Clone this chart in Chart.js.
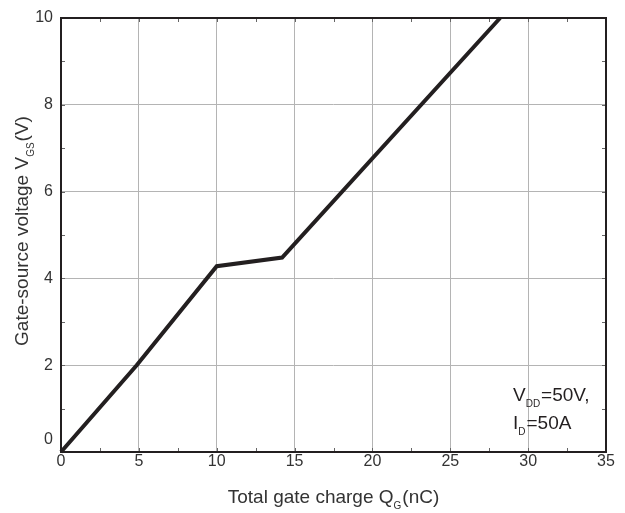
<!DOCTYPE html>
<html>
<head>
<meta charset="utf-8">
<script src="https://cdn.jsdelivr.net/npm/chart.js@4/dist/chart.umd.min.js"></script>
<style>
  html, body { margin: 0; padding: 0; background: #fff; }
  #wrap { width: 625px; height: 513px; }
</style>
</head>
<body>
<div id="wrap"><canvas id="qg"></canvas></div>
<script>
// gate charge curve, Qg (nC) vs Vgs (V)
const chargeNC = [0, 4.86, 10, 14.2, 28.2];
const vgsVolts = [0, 2, 4.28, 4.48, 10];
const xTicks = [0, 5, 10, 15, 20, 25, 30, 35];
const yTicks = [0, 2, 4, 6, 8, 10];

const FONT = "'Liberation Sans', Arial, sans-serif";
const INK = "#231f20";

// frame, minor ticks, titles and the test-condition note
const extras = {
  id: "extras",
  afterDraw(chart) {
    const ctx = chart.ctx;
    const a = chart.chartArea;
    const xs = chart.scales.x, ys = chart.scales.y;
    ctx.save();

    // small inward ticks on all four sides
    ctx.strokeStyle = "#666";
    ctx.lineWidth = 1;
    ctx.beginPath();
    for (let v = 0; v <= 35; v += 2.5) {
      const px = Math.round(xs.getPixelForValue(v)) + 0.5;
      ctx.moveTo(px, a.bottom); ctx.lineTo(px, a.bottom - 4);
      ctx.moveTo(px, a.top); ctx.lineTo(px, a.top + 4);
    }
    for (let v = 0; v <= 10; v += 1) {
      const py = Math.round(ys.getPixelForValue(v)) + 0.5;
      ctx.moveTo(a.left, py); ctx.lineTo(a.left + 4, py);
      ctx.moveTo(a.right, py); ctx.lineTo(a.right - 4, py);
    }
    ctx.stroke();

    ctx.strokeStyle = INK;
    ctx.lineWidth = 2;
    ctx.strokeRect(a.left, a.top, a.right - a.left, a.bottom - a.top);

    // y = 0 label sits a little above the axis
    ctx.fillStyle = "#333";
    ctx.font = "16px " + FONT;
    ctx.textAlign = "right";
    ctx.textBaseline = "middle";
    ctx.fillText("0", a.left - 8, a.bottom - 12);

    // text with subscripts
    function sub(parts, x, y, size) {
      ctx.textAlign = "left";
      ctx.textBaseline = "alphabetic";
      let cx = x;
      for (const [t, isSub] of parts) {
        ctx.font = (isSub ? Math.round(size * 0.55) : size) + "px " + FONT;
        ctx.fillText(t, cx, isSub ? y + size * 0.3 : y);
        cx += ctx.measureText(t).width + (isSub ? 1 : 0);
      }
      return cx - x;
    }
    function width(parts, size) {
      let w = 0;
      for (const [t, isSub] of parts) {
        ctx.font = (isSub ? Math.round(size * 0.55) : size) + "px " + FONT;
        w += ctx.measureText(t).width + (isSub ? 1 : 0);
      }
      return w;
    }

    ctx.fillStyle = "#333";
    const xt = [["Total gate charge Q", false], ["G", true], ["(nC)", false]];
    sub(xt, (a.left + a.right) / 2 - width(xt, 19) / 2, 503, 19);

    const yt = [["Gate-source voltage V", false], ["GS", true], ["(V)", false]];
    ctx.save();
    ctx.translate(28, 231);
    ctx.rotate(-Math.PI / 2);
    sub(yt, -width(yt, 19) / 2, 0, 19);
    ctx.restore();

    ctx.fillStyle = INK;
    sub([["V", false], ["DD", true], ["=50V,", false]], 513, 401, 19);
    sub([["I", false], ["D", true], ["=50A", false]], 513, 429, 19);

    ctx.restore();
  }
};

new Chart(document.getElementById("qg"), {
  type: "line",
  data: {
    datasets: [{
      data: chargeNC.map((q, i) => ({ x: q, y: vgsVolts[i] })),
      borderColor: INK,
      borderWidth: 4,
      pointRadius: 0,
      tension: 0,
      borderJoinStyle: "miter",
      clip: false
    }]
  },
  options: {
    responsive: true,
    maintainAspectRatio: false,
    animation: false,
    layout: { padding: { left: 0, top: 18, right: 19, bottom: 0 } },
    plugins: { legend: { display: false }, tooltip: { enabled: false } },
    scales: {
      x: {
        type: "linear",
        min: 0, max: 35,
        afterBuildTicks: s => { s.ticks = xTicks.map(v => ({ value: v })); },
        afterFit: s => { s.height = 61; },
        grid: { color: "#b4b4b4", lineWidth: 1, drawTicks: false },
        border: { display: false },
        ticks: { color: "#333", font: { family: FONT, size: 16 }, padding: 0, maxRotation: 0 }
      },
      y: {
        min: 0, max: 10,
        afterBuildTicks: s => { s.ticks = yTicks.map(v => ({ value: v })); },
        afterFit: s => { s.width = 61; },
        grid: { color: "#b4b4b4", lineWidth: 1, drawTicks: false },
        border: { display: false },
        ticks: {
          color: "#333",
          font: { family: FONT, size: 16 },
          padding: 8,
          callback: v => (v === 0 ? "" : v)
        }
      }
    }
  },
  plugins: [extras]
});
</script>
</body>
</html>
